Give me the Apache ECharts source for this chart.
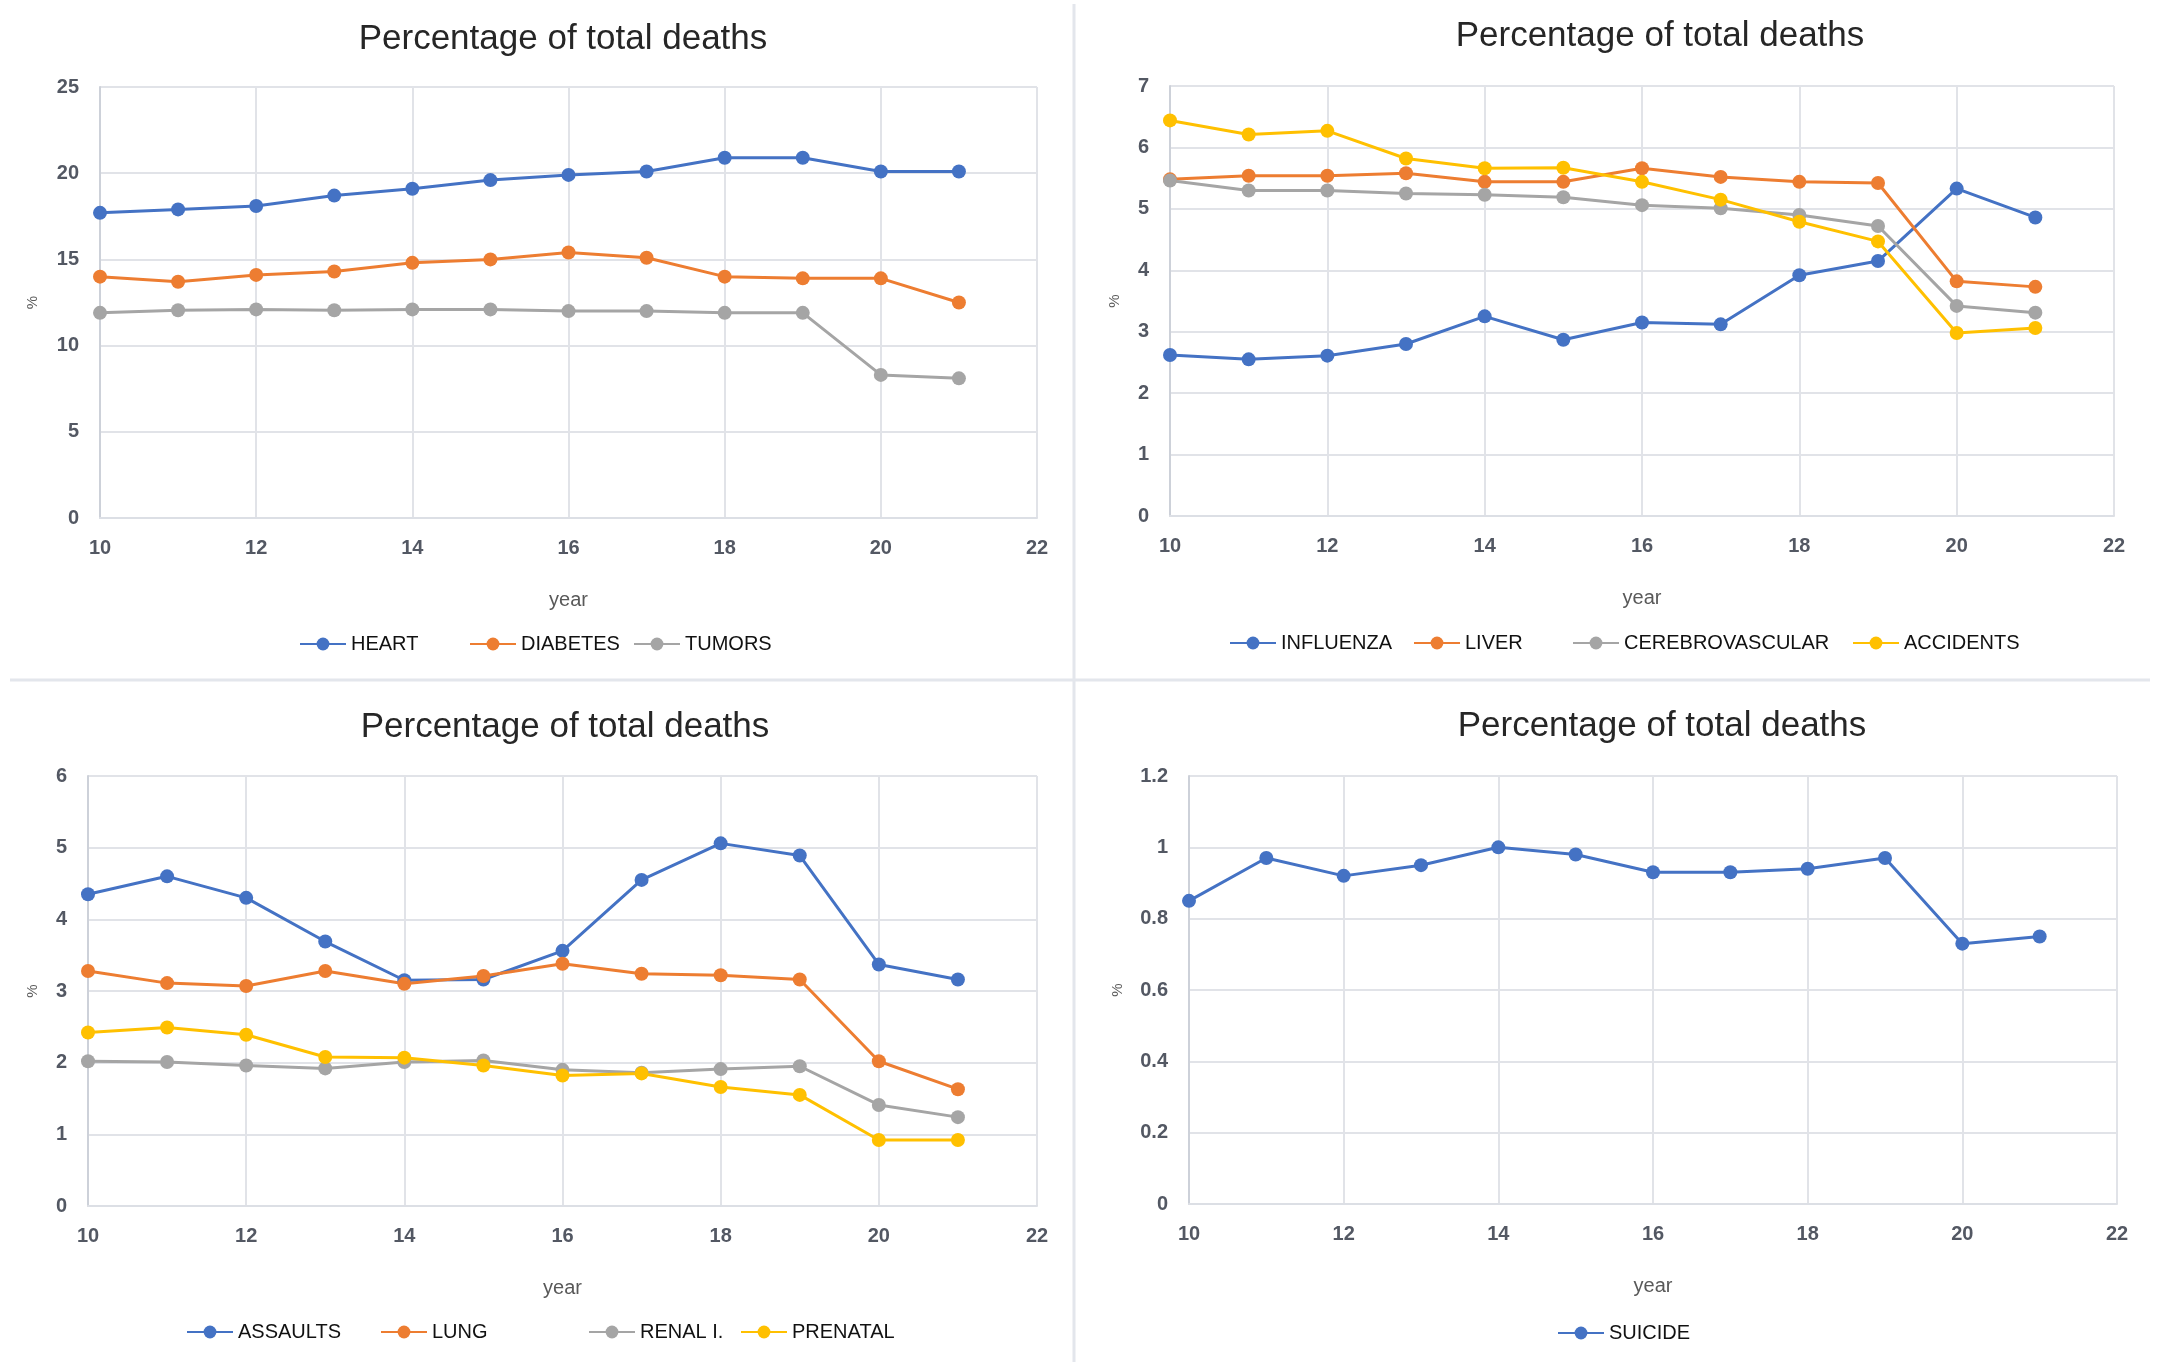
<!DOCTYPE html>
<html>
<head>
    <meta charset="utf-8">
    <title>Percentage of total deaths</title>
    <script type="text/javascript" src="https://cdn.jsdelivr.net/npm/echarts@6/dist/echarts.min.js"></script>
    <style>
        html, body { margin: 0; padding: 0; background: #fff; }
    </style>
</head>
<body>
<div id="main" style="width: 2163px;height:1364px;"></div>
<script type="text/javascript">
    // years on the x axis (shared by all four panels)
    var years = [10, 11, 12, 13, 14, 15, 16, 17, 18, 19, 20, 21];

    // panel 1
    var heart    = [17.7, 17.9, 18.1, 18.7, 19.1, 19.6, 19.9, 20.1, 20.9, 20.9, 20.1, 20.1];
    var diabetes = [14.0, 13.7, 14.1, 14.3, 14.8, 15.0, 15.4, 15.1, 14.0, 13.9, 13.9, 12.5];
    var tumors   = [11.9, 12.05, 12.1, 12.05, 12.1, 12.1, 12.0, 12.0, 11.9, 11.9, 8.3, 8.1];

    // panel 2
    var influenza = [2.62, 2.55, 2.61, 2.80, 3.25, 2.87, 3.15, 3.12, 3.92, 4.15, 5.33, 4.86];
    var liver     = [5.48, 5.54, 5.54, 5.58, 5.44, 5.44, 5.66, 5.52, 5.44, 5.42, 3.82, 3.73];
    var cerebro   = [5.46, 5.30, 5.30, 5.25, 5.23, 5.19, 5.06, 5.01, 4.90, 4.72, 3.42, 3.31];
    var accidents = [6.44, 6.21, 6.27, 5.82, 5.66, 5.67, 5.44, 5.15, 4.79, 4.47, 2.98, 3.06];

    // panel 3
    var assaults = [4.35, 4.60, 4.30, 3.69, 3.15, 3.16, 3.56, 4.55, 5.06, 4.89, 3.37, 3.16];
    var lung     = [3.28, 3.11, 3.07, 3.28, 3.10, 3.21, 3.38, 3.24, 3.22, 3.16, 2.02, 1.63];
    var renal    = [2.02, 2.01, 1.96, 1.92, 2.01, 2.03, 1.90, 1.86, 1.91, 1.95, 1.41, 1.24];
    var prenatal = [2.42, 2.49, 2.39, 2.08, 2.07, 1.96, 1.82, 1.85, 1.66, 1.55, 0.92, 0.92];

    // panel 4
    var suicide = [0.85, 0.97, 0.92, 0.95, 1.00, 0.98, 0.93, 0.93, 0.94, 0.97, 0.73, 0.75];

    // y axis ranges per panel: [max, interval]
    var yRanges = [[25, 5], [7, 1], [6, 1], [1.2, 0.2]];

    var BLUE = '#4472C4', ORANGE = '#ED7D31', GRAY = '#A5A5A5', GOLD = '#FFC000';
    var FONT = 'Liberation Sans';

    var myChart = echarts.init(document.getElementById('main'));

    function pts(vals) {
        return years.map(function (y, i) { return [y, vals[i]]; });
    }

    function line(name, vals, color, idx) {
        return {
            type: 'line',
            name: name,
            xAxisIndex: idx,
            yAxisIndex: idx,
            data: pts(vals),
            symbol: 'circle',
            symbolSize: 14,
            color: color,
            lineStyle: {width: 3, color: color},
            itemStyle: {color: color},
            animation: false
        };
    }

    var grids = [
        {left: 100, top: 87, width: 937, height: 431},
        {left: 1170, top: 86, width: 944, height: 430},
        {left: 88, top: 776, width: 949, height: 430},
        {left: 1189, top: 776, width: 928, height: 428}
    ];
    var pctGap = [60, 48, 48, 64];

    var xAxes = [], yAxes = [];
    for (var i = 0; i < 4; i++) {
        xAxes.push({
            gridIndex: i,
            type: 'value',
            min: 10, max: 22, interval: 2,
            name: 'year',
            nameLocation: 'middle',
            nameGap: 72,
            nameTextStyle: {fontFamily: FONT, fontSize: 20, color: '#595959'},
            axisLine: {show: true, lineStyle: {color: '#DCDFE5', width: 2}},
            axisTick: {show: false},
            axisLabel: {margin: 20, fontFamily: FONT, fontSize: 20, fontWeight: 'bold', color: '#535863'},
            splitLine: {show: true, lineStyle: {color: '#E1E3E8', width: 2}}
        });
        yAxes.push({
            gridIndex: i,
            type: 'value',
            min: 0, max: yRanges[i][0], interval: yRanges[i][1],
            name: '%',
            nameLocation: 'middle',
            nameRotate: 90,
            nameGap: pctGap[i],
            nameTextStyle: {fontFamily: FONT, fontSize: 15, color: '#595959'},
            axisLine: {show: true, lineStyle: {color: '#CDD1D9', width: 2}},
            axisTick: {show: false},
            axisLabel: {margin: 21, fontFamily: FONT, fontSize: 20, fontWeight: 'bold', color: '#535863'},
            splitLine: {show: true, lineStyle: {color: '#E1E3E8', width: 2}}
        });
    }

    var titlePos = [[563, 22], [1660, 19], [565, 710], [1662, 709]];
    var titles = titlePos.map(function (p) {
        return {
            text: 'Percentage of total deaths',
            left: p[0], top: p[1],
            textAlign: 'center',
            padding: 0,
            textStyle: {fontFamily: FONT, fontSize: 35, fontWeight: 'normal', color: '#262626'}
        };
    });

    // legend items: [name, icon left, centre y]
    var legendItems = [
        ['HEART', 299, 645], ['DIABETES', 469, 645], ['TUMORS', 633, 645],
        ['INFLUENZA', 1229, 644], ['LIVER', 1413, 644], ['CEREBROVASCULAR', 1572, 644], ['ACCIDENTS', 1852, 644],
        ['ASSAULTS', 186, 1333], ['LUNG', 380, 1333], ['RENAL I.', 588, 1333], ['PRENATAL', 740, 1333],
        ['SUICIDE', 1557, 1334]
    ];
    var legends = legendItems.map(function (it) {
        return {
            data: [it[0]],
            left: it[1], top: it[2] - 11,
            padding: 0,
            itemWidth: 46, itemHeight: 16,
            selectedMode: false,
            textStyle: {fontFamily: FONT, fontSize: 20, color: '#111111'}
        };
    });

    var option = {
        backgroundColor: '#ffffff',
        title: titles,
        legend: legends,
        grid: grids,
        xAxis: xAxes,
        yAxis: yAxes,
        graphic: [
            {type: 'line', shape: {x1: 1074, y1: 4, x2: 1074, y2: 1362}, style: {stroke: '#E3E6EC', lineWidth: 3}, silent: true},
            {type: 'line', shape: {x1: 10, y1: 680, x2: 2150, y2: 680}, style: {stroke: '#E3E6EC', lineWidth: 3}, silent: true}
        ],
        series: [
            line('HEART', heart, BLUE, 0),
            line('DIABETES', diabetes, ORANGE, 0),
            line('TUMORS', tumors, GRAY, 0),
            line('INFLUENZA', influenza, BLUE, 1),
            line('LIVER', liver, ORANGE, 1),
            line('CEREBROVASCULAR', cerebro, GRAY, 1),
            line('ACCIDENTS', accidents, GOLD, 1),
            line('ASSAULTS', assaults, BLUE, 2),
            line('LUNG', lung, ORANGE, 2),
            line('RENAL I.', renal, GRAY, 2),
            line('PRENATAL', prenatal, GOLD, 2),
            line('SUICIDE', suicide, BLUE, 3)
        ]
    };
    myChart.setOption(option);
</script>
</body>
</html>
